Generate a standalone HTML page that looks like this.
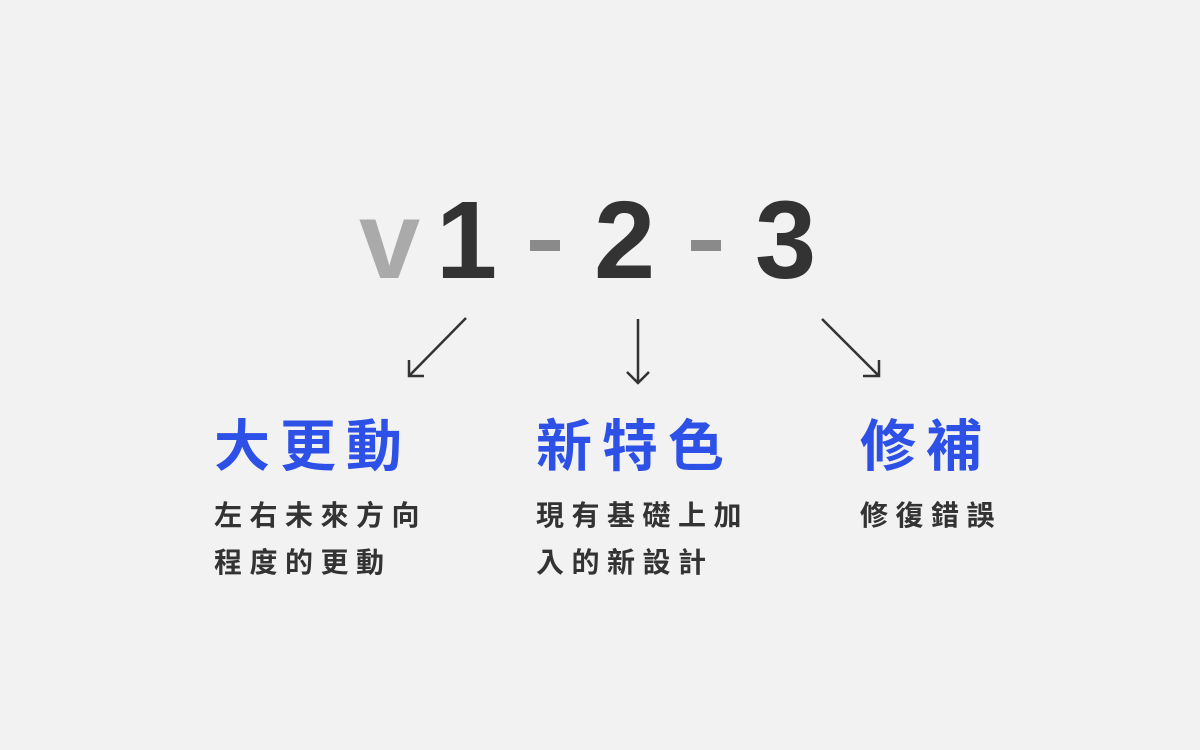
<!DOCTYPE html>
<html><head><meta charset="utf-8"><style>
body{margin:0;width:1200px;height:750px;background:#f2f2f3;position:relative;overflow:hidden;font-family:"Liberation Sans","Noto Sans CJK TC",sans-serif}
.g{position:absolute;font-weight:bold;font-size:110px;line-height:1;color:#333}
.h{position:absolute;top:412px;font-family:"Noto Sans CJK TC",sans-serif;font-weight:bold;font-size:56px;letter-spacing:10px;color:#2d50e6;line-height:1.1}
.s{position:absolute;top:491px;font-family:"Noto Sans CJK TC",sans-serif;font-weight:bold;font-size:28px;letter-spacing:7.5px;color:#333;line-height:47px}
</style></head><body>
<div class="g" style="left:359px;top:186px;color:#aaa">v</div>
<div class="g" style="left:436px;top:186px">1</div>
<div style="position:absolute;left:530px;top:240px;width:30px;height:11px;background:#8a8a8a"></div>
<div class="g" style="left:594px;top:186px">2</div>
<div style="position:absolute;left:691px;top:240px;width:30px;height:11px;background:#8a8a8a"></div>
<div class="g" style="left:755px;top:186px">3</div>
<svg width="1200" height="750" style="position:absolute;left:0;top:0" fill="none" stroke="#333" stroke-width="2.5">
<path d="M466 318L409 376M409 360V376H424"/>
<path d="M638 319V383M627 372L638 383L649 372"/>
<path d="M822 319L879 376M879 360V376H863"/>
</svg>
<div class="h" style="left:214px">大更動</div>
<div class="h" style="left:536px">新特色</div>
<div class="h" style="left:860px">修補</div>
<div class="s" style="left:214px">左右未來方向<br>程度的更動</div>
<div class="s" style="left:536px">現有基礎上加<br>入的新設計</div>
<div class="s" style="left:860px">修復錯誤</div>
</body></html>
